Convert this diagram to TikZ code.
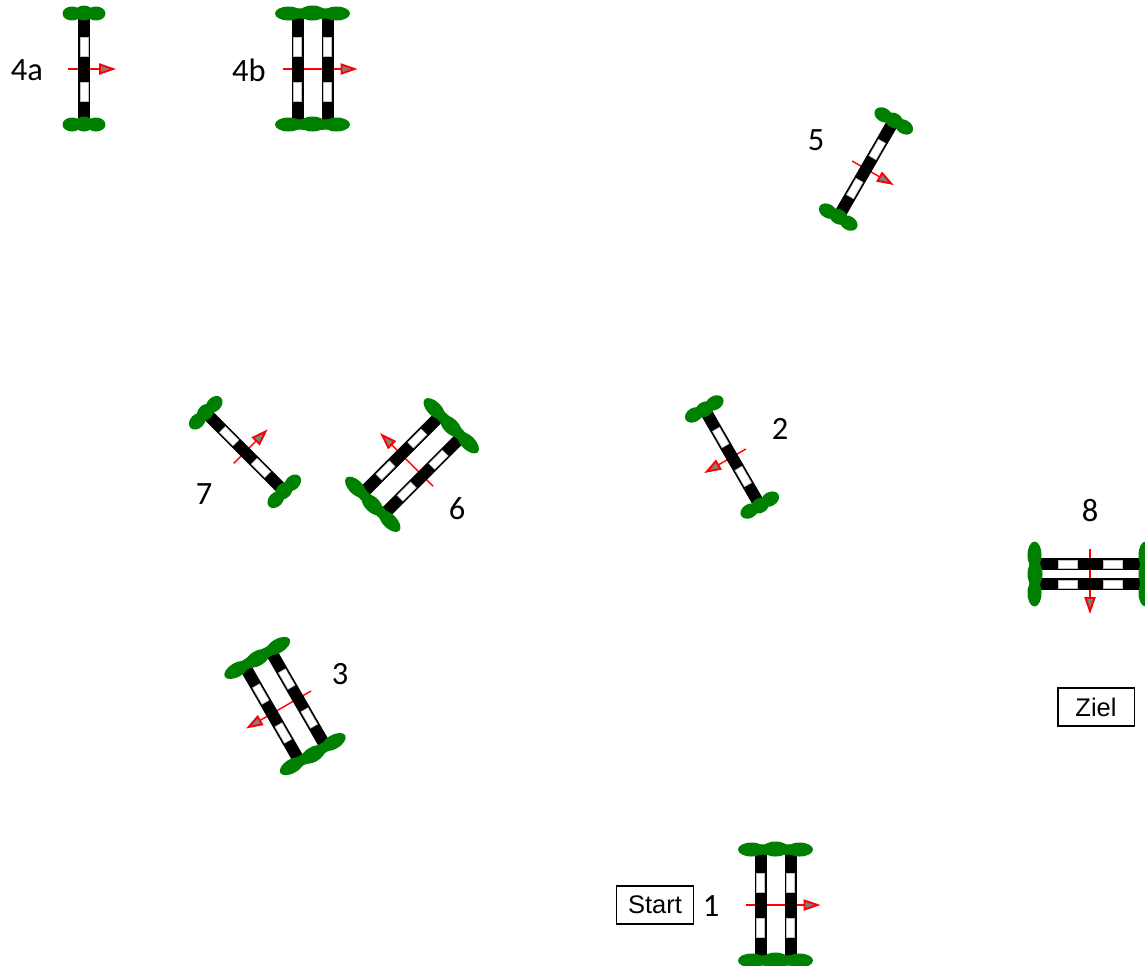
\documentclass[tikz,border=0pt]{standalone}
\usepackage{fontspec}
\setmainfont{Carlito}
\newfontfamily\boxfont{Liberation Sans}
\definecolor{hedgegreen}{RGB}{0,128,0}
\definecolor{flaggray}{RGB}{128,128,128}
\newcommand{\poles}[1]{
	\fill [bar] (#1-6,-52) rectangle (#1+6,52);
	\draw [gap] (#1-4,13) rectangle (#1+4,32);
	\draw [gap] (#1-4,-32) rectangle (#1+4,-13);
}
\newcommand{\shrubs}[3]{
	\fill [hedge] ({-(#1)},#3) ellipse [x radius=#2,y radius=7];
	\fill [hedge] (0,#3+0.5) ellipse [x radius=#2,y radius=7.5];
	\fill [hedge] (#1,#3) ellipse [x radius=#2,y radius=7];
	\fill [hedge] (0,#3) ellipse [x radius=#1+#2-2,y radius=5.5];
}
\tikzset{
	hedge/.style={fill=hedgegreen},
	bar/.style={fill=black},
	gap/.style={fill=white,draw=black!25,line width=0.3pt},
	course/.style={draw=red,line width=0.8pt},
	head/.style={draw=red,fill=flaggray,line width=1.1pt,line join=miter},
	number/.style={font=\fontsize{18.5}{22}\selectfont},
	tag/.style={draw=black,line width=0.8pt,minimum width=43.5pt,minimum height=21.5pt,font=\boxfont\fontsize{14.5}{17}\selectfont},
	pics/hurdle/.style={code={
		\draw [course] (-16,0) -- (16,0);
		\draw [head] (29,0) -- (16,4.5) -- (16,-4.5) -- cycle;
		\poles{0}
		\shrubs{12}{9.5}{55.5}
		\shrubs{12}{9.5}{-55.5}
	}},
	pics/oxer/.style={code={
		\draw [course] (-#1-15,0) -- (#1+14,0);
		\draw [head] (#1+27,0) -- (#1+14,4.5) -- (#1+14,-4.5) -- cycle;
		\poles{-#1}
		\poles{#1}
		\shrubs{#1+9}{13.5}{55.5}
		\shrubs{#1+9}{13.5}{-55.5}
	}},
}
\begin{document}
\begin{tikzpicture}[x=0.02cm,y=0.02cm]
	\tikzstyle{every node}+=[inner sep=0pt]
	\useasboundingbox (0,-965) rectangle (1145,0);
	\clip (0,-965) rectangle (1145,0);
	\pic at (84,-69) {hurdle};
	\pic at (312.5,-69) {oxer=15};
	\pic [rotate=-30] at (866,-169) {hurdle};
	\pic [rotate=210] at (732,-457) {hurdle};
	\pic [rotate=45] at (245,-452) {hurdle};
	\pic [rotate=135] at (412,-465) {oxer=15};
	\pic [rotate=210] at (285,-706) {oxer=15};
	\pic [rotate=-90] at (1090,-574) {oxer=10};
	\pic at (775.5,-905) {oxer=15};
	\node [number] (jump4a) at (27,-70) {4a};
	\node [number] (jump4b) at (249,-70) {4b};
	\node [number] (jump5) at (816,-140) {5};
	\node [number] (jump2) at (780,-429) {2};
	\node [number] (jump7) at (204,-494) {7};
	\node [number] (jump6) at (457,-509) {6};
	\node [number] (jump8) at (1090,-510) {8};
	\node [number] (jump3) at (340,-674) {3};
	\node [number] (jump1) at (711,-906) {1};
	\node [tag] (start) at (655,-905) {Start};
	\node [tag] (finish) at (1096,-707) {Ziel};
\end{tikzpicture}
\end{document}
